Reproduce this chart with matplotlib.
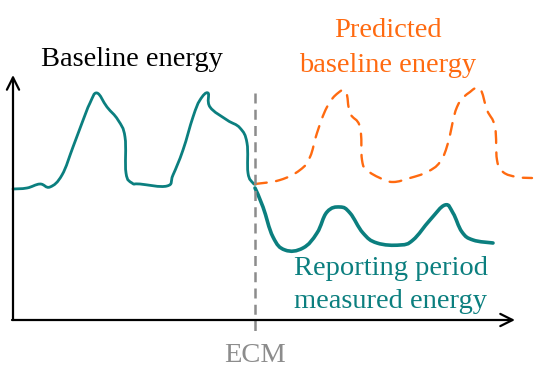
"""Schematic: baseline vs reporting-period energy around an ECM."""

import matplotlib

matplotlib.use("Agg")
import matplotlib.pyplot as plt
import numpy as np
from matplotlib.patches import PathPatch
from matplotlib.path import Path

W, H = 538, 389

C = {
    "base": "#0b7f7f",
    "pred": "#ff6a10",
    "ecm": "#8c8c8c",
    "axis": "black",
}

# curves (pixel coordinates, y downwards)
base_x = [13, 27, 40, 50, 62, 73, 82, 90, 97, 107, 118, 125, 126, 132, 140, 167,
          173, 183, 193, 200, 208, 210, 227, 240, 247, 248, 253, 256]
base_y = [189, 188, 184, 187, 175, 147, 123, 103, 93, 107, 120, 137, 173, 183, 184, 186,
          175, 150, 117, 100, 93, 107, 120, 128, 143, 173, 183, 184]

report_x = [255, 263, 273, 285, 303, 317, 327, 340, 350, 363, 377, 400, 413, 430,
            445, 453, 462, 473, 493]
report_y = [188, 207, 237, 250, 248, 233, 212, 207, 213, 233, 243, 245, 240, 220,
            205, 213, 232, 240, 243]

pred_x = [255, 280, 300, 310, 317, 327, 338, 346, 350, 360, 362, 367, 380, 393, 410,
          427, 440, 448, 457, 470, 480, 487, 495, 497, 503, 517, 532]
pred_y = [184, 180, 170, 157, 133, 107, 93, 92, 113, 127, 160, 170, 178, 182, 178,
          172, 162, 143, 107, 92, 89, 110, 127, 160, 172, 177, 178]

ECM_X = 255


def smooth_path(xs, ys, k=0.2):
    # Catmull-Rom style cubic Bezier through the traced points
    p = np.column_stack([xs, ys]).astype(float)
    verts, codes = [p[0]], [Path.MOVETO]
    for i in range(len(p) - 1):
        p0 = p[max(i - 1, 0)]
        p3 = p[min(i + 2, len(p) - 1)]
        c1 = p[i] + (p[i + 1] - p0) * k
        c2 = p[i + 1] - (p3 - p[i]) * k
        verts += [c1, c2, p[i + 1]]
        codes += [Path.CURVE4] * 3
    return Path(verts, codes)


def draw_curve(ax, xs, ys, **kw):
    ax.add_patch(PathPatch(smooth_path(xs, ys), fill=False, capstyle="round",
                           joinstyle="round", **kw))


fig = plt.figure(figsize=(W / 100, H / 100), dpi=100)
ax = fig.add_axes([0, 0, 1, 1])
ax.set_xlim(0, W)
ax.set_ylim(H, 0)
ax.axis("off")

# axes with open arrow heads
arrow = dict(arrowstyle="->", lw=1.6, color=C["axis"], mutation_scale=22,
             shrinkA=0, shrinkB=0)
ax.annotate("", xy=(13, 75), xytext=(13, 320), arrowprops=arrow)
ax.annotate("", xy=(515, 320), xytext=(12, 320), arrowprops=arrow)

ax.plot([ECM_X, ECM_X], [93, 336], color=C["ecm"], lw=1.8, ls=(0, (4, 2.5)))

draw_curve(ax, base_x, base_y, edgecolor=C["base"], lw=2.0)
draw_curve(ax, report_x, report_y, edgecolor=C["base"], lw=2.6)
draw_curve(ax, pred_x, pred_y, edgecolor=C["pred"], lw=1.7, ls=(0, (5, 4)))

font = dict(family=["Liberation Serif", "DejaVu Serif"], fontsize=20.5, va="baseline",
            ha="center")
ax.text(132, 66, "Baseline energy", color="black", **font)
ax.text(388, 37, "Predicted", color=C["pred"], **font)
ax.text(388, 72, "baseline energy", color=C["pred"], **font)
ax.text(391, 275, "Reporting period", color=C["base"], **font)
ax.text(391, 308, "measured energy", color=C["base"], **font)
ax.text(ECM_X, 362, "ECM", color=C["ecm"], **font)

fig.savefig("out.png", dpi=100)
